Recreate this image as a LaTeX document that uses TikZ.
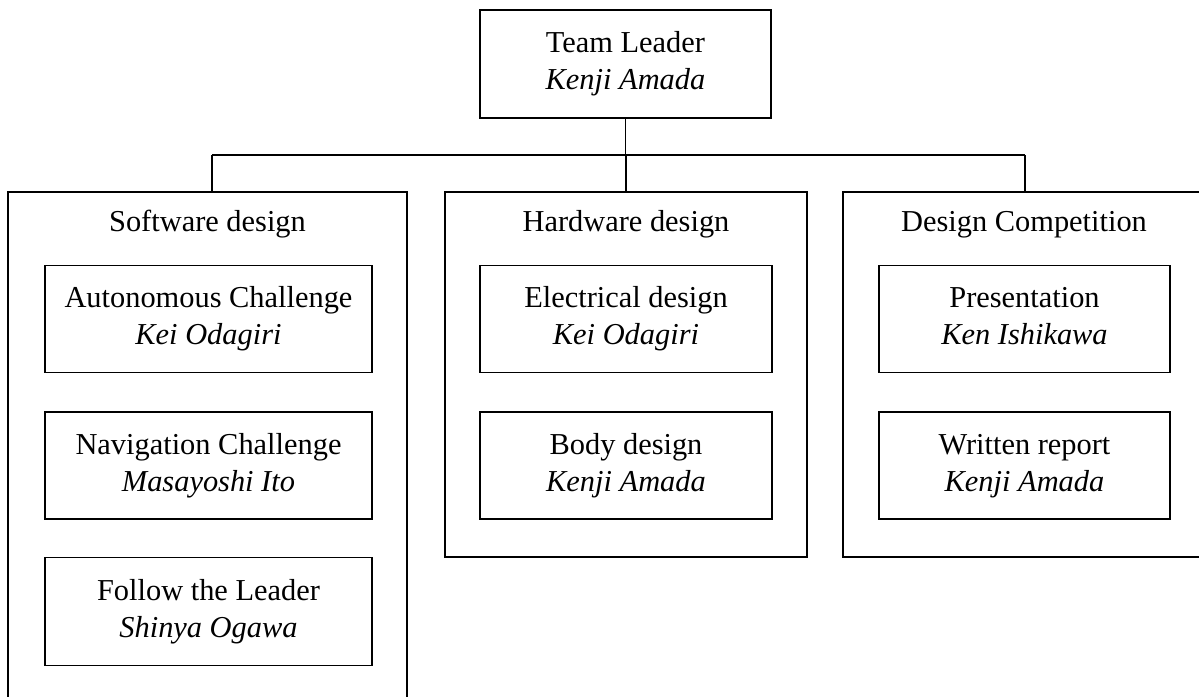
\documentclass[tikz,border=0pt]{standalone}
\usepackage{fontspec}
\setmainfont{Liberation Serif}
% two-line label: role in roman, name in italics, with struts so every box sets alike
\newcommand\rolename[2]{\strut#1\\\strut\textit{#2}}
\begin{document}
\begin{tikzpicture}[x=0.5pt,y=-0.5pt,
  box/.style={draw,line width=0.9pt,inner sep=0pt,align=center,
    font=\fontsize{15.2pt}{18.5pt}\selectfont},
  group/.style={draw,line width=0.9pt,inner sep=0pt},
  title/.style={anchor=base,inner sep=0pt,font=\fontsize{15.2pt}{18.5pt}\selectfont},
  wire/.style={line width=0.9pt}]
\useasboundingbox (0,0) rectangle (1199,696);
\clip (0,0) rectangle (1199,696);

% team leader
\node[box,minimum width=291*0.5pt,minimum height=108*0.5pt] (top) at (625.5,64)
  {\rolename{Team Leader}{Kenji Amada}};

% three groups
\node[group,minimum width=399*0.5pt,minimum height=528*0.5pt] (sw) at (207.5,456) {};
\node[group,minimum width=362*0.5pt,minimum height=365*0.5pt] (hw) at (626,374.5) {};
\node[group,minimum width=362*0.5pt,minimum height=365*0.5pt] (dc) at (1024,374.5) {};

\node[title] (swt) at (207.5,231) {Software design};
\node[title] (hwt) at (626,231) {Hardware design};
\node[title] (dct) at (1024,231) {Design Competition};

% software tasks
\node[box,minimum width=327*0.5pt,minimum height=107*0.5pt] (auto) at (208.5,319)
  {\rolename{Autonomous Challenge}{Kei Odagiri}};
\node[box,minimum width=327*0.5pt,minimum height=107*0.5pt] (nav) at (208.5,465.5)
  {\rolename{Navigation Challenge}{Masayoshi Ito}};
\node[box,minimum width=327*0.5pt,minimum height=108*0.5pt] (follow) at (208.5,611.5)
  {\rolename{Follow the Leader}{Shinya Ogawa}};

% hardware tasks
\node[box,minimum width=292*0.5pt,minimum height=107*0.5pt] (elec) at (626,319)
  {\rolename{Electrical design}{Kei Odagiri}};
\node[box,minimum width=292*0.5pt,minimum height=107*0.5pt] (body) at (626,465.5)
  {\rolename{Body design}{Kenji Amada}};

% design competition tasks
\node[box,minimum width=291*0.5pt,minimum height=107*0.5pt] (pres) at (1024.5,319)
  {\rolename{Presentation}{Ken Ishikawa}};
\node[box,minimum width=291*0.5pt,minimum height=107*0.5pt] (report) at (1024.5,465.5)
  {\rolename{Written report}{Kenji Amada}};

% connectors
\coordinate (busL) at (212,155);
\coordinate (busR) at (1025,155);
\draw[wire] (busL) -- (busR);
\draw[wire] (top.south) -- (top.south |- busL);
\draw[wire] (busL) -- (busL |- sw.north);
\draw[wire] (hw.north) -- (hw.north |- busL);
\draw[wire] (busR) -- (busR |- dc.north);
\end{tikzpicture}
\end{document}
